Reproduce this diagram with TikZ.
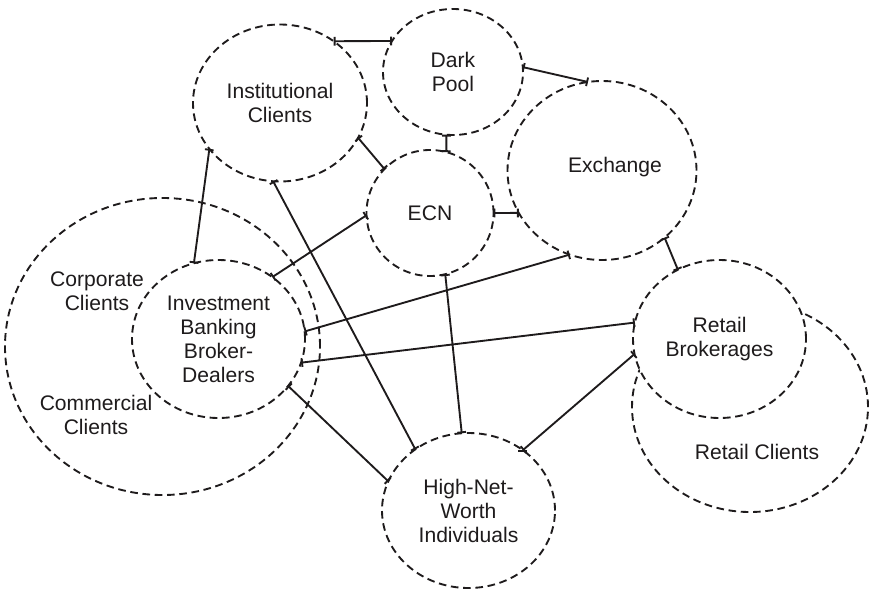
\documentclass[tikz,border=0pt]{standalone}
\usepackage{fontspec}
\setmainfont{Liberation Sans}
\usetikzlibrary{shapes.geometric,arrows.meta}
\definecolor{ink}{RGB}{30,27,28}

\begin{document}
\begin{tikzpicture}[x=0.03cm,y=-0.03cm,
                    market/.style={ellipse,draw=ink,line width=1.6pt,dash pattern=on 6.5pt off 4pt,
                                   fill=white,inner sep=0,outer sep=0,align=center,text=ink,
                                   font=\fontsize{18}{20.5}\selectfont},
                    caption/.style={align=center,text=ink,font=\fontsize{18}{20.5}\selectfont},
                    link/.style={draw=ink,line width=1.6pt,arrows={Bar[width=7.5pt]-Bar[width=7.5pt]}}
        ]
    \useasboundingbox (0,0) rectangle (870,589);
    % client groups behind the market nodes
    \node[market,minimum width=9.45cm,minimum height=8.91cm] (corp) at (162.5,346.5) {};
    \node[caption] (corptext) at (97,291) {Corporate\\Clients};
    \node[caption] (commtext) at (96,415) {Commercial\\Clients};
    \node[market,minimum width=7.08cm,minimum height=6.3cm] (rc) at (750,407) {};
    \node[caption] (rctext) at (757,452) {Retail Clients};
    % participants
    \node[market,minimum width=5.22cm,minimum height=4.71cm] (inst) at (280,103) {Institutional\\Clients};
    \node[market,minimum width=4.2cm,minimum height=3.78cm] (dark) at (453,72) {Dark\\Pool};
    \node[market,minimum width=5.67cm,minimum height=5.37cm,
          label={[caption,xshift=0.39cm,yshift=0.1cm]center:Exchange}] (exch) at (602,170.5) {};
    \node[market,minimum width=3.81cm,minimum height=3.78cm] (ecn) at (430,213) {ECN};
    \node[market,minimum width=5.19cm,minimum height=4.74cm] (ib) at (218.5,339) {Investment\\Banking\\Broker-\\Dealers};
    \node[market,minimum width=5.19cm,minimum height=4.74cm] (rb) at (719.5,339) {Retail\\Brokerages};
    \node[market,minimum width=5.19cm,minimum height=4.65cm] (hnw) at (468.5,510.5) {High-Net-\\Worth\\Individuals};
\path[link]
    (inst.49) edge (dark.153)
    (dark.4) edge (exch.99)
    (dark.264) edge (ecn.75)
    (inst.336) edge (ecn.136)
    (ecn.0) edge (exch.207)
    (inst.213) edge (ib.108)
    (inst.265) edge (hnw.131)
    (ecn.182) edge (ib.49)
    (ecn.284) edge (hnw.95)
    (exch.249) edge (ib.5)
    (exch.313) edge (rb.121)
    (ib.344) edge (rb.169)
    (ib.326) edge (hnw.160)
    (hnw.48) edge (rb.190);
\end{tikzpicture}
\end{document}
